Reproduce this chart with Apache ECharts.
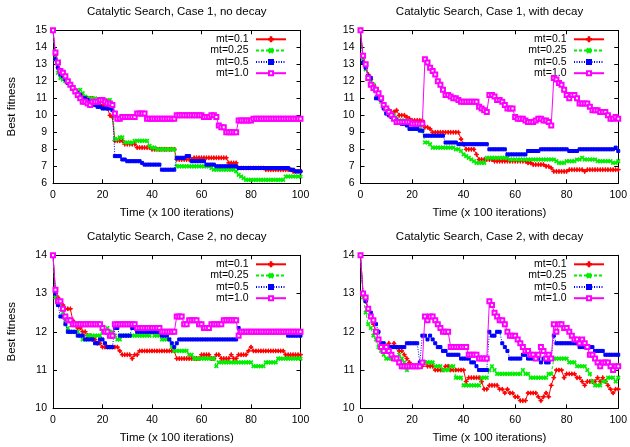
<!DOCTYPE html>
<html>
<head>
<meta charset="utf-8">
<script src="https://cdn.jsdelivr.net/npm/echarts@6/dist/echarts.min.js"></script>
<style>html,body{margin:0;padding:0;background:#fff}#c{width:630px;height:447px}</style>
</head>
<body>
<div id="c"></div>
<script>
// ---- Data (x = 0..100, units of 100 iterations) ----
const titles = ['Catalytic Search, Case 1, no decay','Catalytic Search, Case 1, with decay','Catalytic Search, Case 2, no decay','Catalytic Search, Case 2, with decay'];
const seriesNames = ['mt=0.1','mt=0.25','mt=0.5','mt=1.0'];
const xTicks = [0, 100, 20];
const yCase1 = [6, 15, 1];
const yCase2 = [10, 14, 1];

// Case 1, no decay
const c1nd_mt01 = [15,13.5,12.8,12.6,12.4,12.2,12.0,11.8,11.6,11.4,
11.3,11.2,11.1,11.0,11.0,11.0,11.0,10.8,10.7,10.6,
10.6,10.5,10.4,10.0,9.9,8.5,8.5,8.5,8.5,8.3,
8.3,8.3,8.3,8.3,8.1,8.1,8.1,8.1,8.1,8.1,
8.0,8.0,8.0,8.0,8.0,8.0,8.0,8.0,8.0,8.0,
7.4,7.4,7.4,7.4,7.4,7.4,7.4,7.5,7.5,7.5,
7.5,7.5,7.5,7.5,7.5,7.5,7.5,7.5,7.5,7.5,
7.5,7.2,7.2,7.2,7.2,6.9,6.9,6.9,6.9,6.9,
6.9,6.9,6.9,6.9,6.9,6.9,6.8,6.8,6.8,6.8,
6.8,6.8,6.8,6.8,6.8,6.8,6.8,6.7,6.7,6.7,
6.7];
const c1nd_mt025 = [15,13.3,12.5,12.2,12.1,12.0,11.9,11.8,11.6,11.5,
11.4,11.5,11.3,11.1,11.0,11.0,11.0,11.0,10.9,10.9,
10.9,10.9,10.9,10.9,10.5,8.6,8.6,8.7,8.7,8.4,
8.4,8.4,8.4,8.5,8.5,8.5,8.5,8.5,8.5,8.2,
8.1,8.1,8.0,8.0,8.0,8.0,8.0,8.0,8.0,8.0,
7.0,7.0,7.0,7.0,7.0,7.0,7.0,7.0,7.0,7.0,
7.0,7.0,7.0,7.0,6.9,6.8,6.8,6.8,6.8,6.8,
6.8,6.8,6.8,6.8,6.7,6.5,6.4,6.3,6.2,6.2,
6.2,6.2,6.2,6.2,6.2,6.2,6.2,6.2,6.2,6.2,
6.2,6.2,6.2,6.2,6.4,6.4,6.4,6.4,6.4,6.4,
6.4];
const c1nd_mt05 = [15,13.3,12.8,12.4,12.3,12.1,11.9,11.8,11.6,11.4,
11.3,11.2,11.0,11.0,10.9,10.8,10.7,10.6,10.5,10.5,
10.4,10.4,10.4,10.4,10.3,7.6,7.6,7.6,7.4,7.4,
7.3,7.3,7.3,7.3,7.3,7.3,7.2,7.1,7.1,7.1,
7.1,7.1,7.1,7.1,6.8,6.8,6.8,6.8,6.8,6.8,
7.5,7.5,7.5,7.5,7.6,7.6,7.3,7.3,7.3,7.3,
7.3,7.3,7.1,7.1,7.1,7.1,7.0,7.0,7.0,7.0,
7.0,7.0,7.0,7.0,7.0,6.9,6.9,6.9,6.9,6.9,
6.9,6.9,6.9,6.9,6.9,6.9,6.9,6.9,6.9,6.9,
6.9,6.9,6.9,6.9,6.9,6.9,6.8,6.8,6.7,6.7,
6.7];
const c1nd_mt10 = [15,13.7,13.1,12.6,12.5,12.3,12.0,11.8,11.6,11.4,
11.2,11.0,10.8,10.8,10.7,10.6,10.8,10.8,10.8,10.9,
10.9,10.8,10.7,10.7,10.6,10.1,9.8,9.8,9.9,9.9,
9.9,9.9,9.9,9.9,10.1,10.1,10.1,10.1,9.8,9.8,
9.8,9.8,9.8,9.8,9.8,9.8,9.8,9.8,9.8,9.8,
10.0,10.0,10.0,10.0,10.0,10.0,10.0,10.0,10.0,10.0,
10.0,9.9,9.9,9.9,10.0,10.0,9.9,9.4,9.3,9.3,
9.0,9.0,9.0,9.0,9.0,9.7,9.7,9.7,9.7,9.7,
9.7,9.8,9.8,9.8,9.8,9.8,9.8,9.8,9.8,9.8,
9.8,9.8,9.8,9.8,9.8,9.8,9.8,9.8,9.8,9.8,
9.8];

// Case 1, with decay
const c1wd_mt01 = [15,13.4,12.9,12.4,12.1,11.8,11.5,11.2,11.0,10.6,
10.4,10.3,10.2,10.2,10.3,10.0,10.0,10.0,9.9,9.8,
9.7,9.7,9.7,9.7,9.7,9.3,9.3,9.2,9.0,9.0,
9.0,9.0,9.0,9.0,9.0,9.0,9.0,9.0,9.0,8.6,
8.3,8.0,8.0,8.0,8.0,7.7,7.4,7.4,7.4,7.4,
7.4,7.4,7.3,7.3,7.3,7.3,7.3,7.3,7.3,7.3,
7.3,7.3,7.3,7.3,7.3,7.2,7.2,7.1,7.1,7.1,
7.1,7.1,7.0,7.0,6.9,6.7,6.7,6.7,6.7,6.7,
6.7,6.8,6.8,6.8,6.8,6.8,6.8,6.7,6.8,6.8,
6.8,6.8,6.8,6.8,6.8,6.8,6.8,6.8,6.8,6.8,
6.8];
const c1wd_mt025 = [15,13.2,12.7,12.3,12.0,11.8,11.5,11.2,10.8,10.5,
10.2,10.2,10.1,10.0,9.8,9.7,9.7,9.7,9.7,9.6,
9.5,9.4,9.3,9.2,9.1,8.4,8.4,8.3,8.1,8.1,
8.1,8.1,8.1,8.1,8.1,8.1,8.1,8.0,8.0,7.9,
7.7,7.6,7.5,7.4,7.3,7.2,7.2,7.2,7.2,7.5,
7.5,7.5,7.5,7.5,7.5,7.5,7.5,7.5,7.4,7.4,
7.4,7.4,7.4,7.4,7.4,7.4,7.4,7.4,7.4,7.4,
7.4,7.4,7.4,7.4,7.4,7.4,7.3,7.2,7.2,7.2,
7.3,7.3,7.3,7.3,7.4,7.4,7.5,7.4,7.4,7.4,
7.4,7.4,7.3,7.3,7.3,7.3,7.3,7.3,7.2,7.2,
7.3];
const c1wd_mt05 = [15,13.1,12.8,12.3,12.2,11.6,11.0,11.0,10.9,10.4,
10.1,10.0,9.9,9.8,9.7,9.6,9.5,9.5,9.4,9.2,
9.2,9.2,9.2,9.1,9.1,8.8,8.8,8.8,8.8,8.8,
8.8,8.8,8.8,8.4,8.4,8.4,8.4,8.4,8.3,8.3,
8.3,8.3,8.3,8.3,8.3,8.3,8.3,8.3,8.3,8.3,
8.0,8.0,8.0,8.0,8.0,8.0,8.0,7.7,7.7,7.7,
7.7,7.7,7.7,7.7,7.7,7.9,7.9,7.9,7.9,7.9,
8.0,8.0,8.0,8.0,8.0,8.0,8.0,8.0,8.0,8.0,
8.0,7.9,7.9,7.9,7.9,8.0,8.0,8.0,8.0,8.0,
8.0,8.0,8.0,8.0,8.0,8.0,8.0,8.0,8.0,8.1,
7.9];
const c1wd_mt10 = [15,13.5,13.0,12.2,11.8,11.6,11.5,11.3,11.0,10.6,
10.4,10.2,10.0,9.8,9.6,9.6,9.6,9.6,9.6,9.6,
9.5,9.5,9.5,9.5,9.5,13.3,13.1,12.8,12.6,12.4,
12.0,11.8,11.5,11.2,11.2,11.1,11.0,11.0,10.9,10.8,
10.8,10.8,10.8,10.8,10.8,10.8,10.5,10.4,10.3,10.2,
11.2,11.2,11.1,10.9,10.9,10.8,10.6,10.4,10.4,10.4,
9.9,9.8,9.8,9.8,9.7,9.6,9.6,9.6,9.7,9.8,
9.8,9.7,9.7,9.6,9.4,12.2,12.1,11.9,11.8,11.5,
11.2,11.0,11.2,11.2,11.0,10.7,10.7,10.7,10.7,10.5,
10.3,10.3,10.3,10.2,10.2,10.2,10.0,9.8,9.8,9.9,
9.8];

// Case 2, no decay
const c2nd_mt01 = [14,13.0,12.9,12.8,12.7,12.6,12.6,12.6,12.3,12.2,
12.1,12.1,12.0,12.0,11.9,11.9,11.8,11.8,11.7,11.7,
11.6,11.6,11.6,11.6,11.6,11.6,11.6,11.5,11.4,11.4,
11.4,11.4,11.3,11.4,11.4,11.5,11.5,11.5,11.5,11.5,
11.5,11.5,11.5,11.5,11.5,11.5,11.5,11.5,11.5,11.5,
11.3,11.3,11.3,11.3,11.3,11.3,11.3,11.3,11.3,11.3,
11.4,11.4,11.4,11.4,11.3,11.3,11.4,11.4,11.3,11.3,
11.3,11.3,11.4,11.3,11.3,11.4,11.4,11.4,11.4,11.5,
11.6,11.5,11.5,11.5,11.5,11.5,11.5,11.5,11.5,11.5,
11.5,11.5,11.5,11.5,11.4,11.4,11.4,11.4,11.4,11.4,
11.4];
const c2nd_mt025 = [14,12.9,12.8,12.7,12.5,12.3,12.1,12.0,12.0,12.0,
12.0,11.9,11.8,11.8,11.9,11.9,11.9,11.9,11.9,11.9,
12.0,12.0,12.1,12.0,12.0,11.9,11.8,11.8,11.9,11.9,
11.9,11.9,11.9,11.9,11.9,11.9,11.9,11.9,11.9,11.9,
12.0,11.9,11.9,11.9,11.8,11.8,11.8,11.8,11.6,11.5,
11.5,11.5,11.5,11.5,11.5,11.4,11.4,11.3,11.3,11.3,
11.3,11.3,11.3,11.3,11.3,11.3,11.1,11.2,11.2,11.2,
11.2,11.2,11.2,11.2,11.2,11.2,11.2,11.2,11.2,11.2,
11.2,11.1,11.1,11.1,11.1,11.1,11.2,11.2,11.2,11.2,
11.2,11.3,11.3,11.3,11.3,11.3,11.3,11.3,11.3,11.3,
11.3];
const c2nd_mt05 = [14,13.0,12.7,12.4,12.4,12.2,12.0,12.0,12.0,12.0,
11.9,11.9,11.9,11.8,11.8,11.8,11.8,11.7,11.7,11.8,
11.8,11.7,11.6,11.6,11.6,12.1,12.1,11.9,11.9,11.9,
11.9,11.9,12.1,12.1,12.0,12.0,12.0,12.0,12.0,12.0,
12.0,12.0,12.0,12.0,11.9,11.9,11.9,11.8,11.7,11.6,
11.7,11.8,11.8,11.8,11.8,11.8,11.8,11.8,11.8,11.8,
11.8,11.8,11.8,11.8,11.8,11.8,11.8,11.8,11.8,11.8,
11.8,11.8,11.8,11.8,11.8,12.1,12.0,12.0,12.0,12.0,
12.0,12.0,12.0,12.0,12.0,12.0,12.0,12.0,12.0,12.0,
12.0,12.0,12.0,12.0,12.0,11.9,11.9,11.9,11.9,11.9,
11.9];
const c2nd_mt10 = [14,13.1,12.8,12.8,12.6,12.4,12.3,12.3,12.2,12.2,
12.2,12.2,12.2,12.2,12.2,12.2,12.2,12.2,12.2,12.2,
12.1,12.0,12.0,11.9,11.9,12.2,12.2,12.2,12.2,12.2,
12.2,12.2,12.2,12.2,12.1,12.1,12.1,12.1,12.1,12.1,
12.1,12.1,12.1,12.1,12.0,12.0,12.0,12.0,12.0,12.0,
12.4,12.4,12.4,12.2,12.2,12.3,12.3,12.3,12.3,12.2,
12.2,12.1,12.1,12.1,12.2,12.2,12.2,12.2,12.2,12.3,
12.3,12.3,12.3,12.3,12.3,11.9,12.0,12.0,12.0,12.0,
12.0,12.0,12.0,12.0,12.0,12.0,12.0,12.0,12.0,12.0,
12.0,12.0,12.0,12.0,12.0,12.0,12.0,12.0,12.0,12.0,
12.0];

// Case 2, with decay
const c2wd_mt01 = [14,13.0,12.8,12.6,12.4,12.2,12.0,11.8,11.7,11.6,
11.6,11.7,11.6,11.7,11.6,11.5,11.5,11.4,11.3,11.2,
11.1,11.1,11.1,11.1,11.1,11.2,11.1,11.1,11.1,11.0,
11.0,11.0,11.0,11.1,11.1,11.0,11.0,11.0,11.0,11.0,
11.0,10.7,10.8,10.8,10.8,10.8,10.8,10.7,10.5,10.5,
10.6,10.6,10.6,10.6,10.5,10.5,10.4,10.5,10.4,10.4,
10.3,10.3,10.2,10.2,10.2,10.4,10.4,10.4,10.4,10.3,
10.2,10.3,10.4,10.3,10.6,10.8,11.0,11.0,11.0,10.8,
10.9,10.9,10.9,10.9,10.8,10.8,10.7,10.6,10.7,10.7,
10.7,10.7,10.8,10.7,10.8,10.7,10.6,10.5,10.4,10.5,
10.5];
const c2wd_mt025 = [14,12.9,12.5,12.2,12.1,11.9,11.8,11.6,11.5,11.4,
11.3,11.3,11.3,11.3,11.3,11.4,11.3,11.2,11.0,11.1,
11.1,11.1,11.1,11.1,11.2,11.2,11.2,11.2,11.2,11.1,
11.1,11.1,11.0,11.0,11.0,11.1,11.1,10.8,10.8,10.8,
10.6,10.6,10.6,10.6,10.6,10.6,10.6,10.8,10.8,10.8,
11.0,11.1,11.0,10.9,10.9,10.9,10.9,10.9,10.9,10.9,
10.9,10.9,10.9,11.0,10.9,10.9,10.8,10.8,10.8,10.8,
10.8,10.8,10.8,10.9,10.9,11.3,11.3,11.3,11.3,11.3,
11.3,11.2,11.2,11.2,11.1,11.1,11.1,11.1,11.0,10.9,
10.7,10.6,10.6,10.6,10.7,10.7,10.8,10.8,10.8,10.7,
10.8];
const c2wd_mt05 = [14,13.0,12.8,12.6,12.5,12.3,12.2,12.0,11.7,11.7,
11.6,11.6,11.6,11.6,11.6,11.6,11.6,11.6,11.7,11.7,
11.7,11.7,11.7,11.2,11.9,11.9,11.8,11.9,11.8,11.7,
11.6,11.6,11.5,11.5,11.4,11.4,11.4,11.4,11.4,11.3,
11.3,11.3,11.3,11.2,11.2,11.1,11.0,11.0,11.0,11.0,
12.0,11.9,11.9,12.0,12.0,11.7,11.6,11.5,11.3,11.3,
11.3,11.3,11.3,11.4,11.4,11.3,11.3,11.3,11.3,11.3,
11.2,11.3,11.2,11.2,11.3,11.9,11.7,11.7,11.7,11.7,
11.7,11.7,11.7,11.7,11.7,11.6,11.6,11.6,11.6,11.6,
11.6,11.5,11.5,11.5,11.5,11.4,11.4,11.4,11.4,11.4,
11.4];
const c2wd_mt10 = [14,13.0,12.9,12.6,12.4,12.3,12.0,11.8,11.6,11.5,
11.6,11.5,11.4,11.3,11.3,11.2,11.1,11.1,11.1,11.1,
11.1,11.1,11.1,11.1,11.2,12.4,12.3,12.4,12.4,12.3,
12.2,12.1,12.0,12.0,12.0,11.6,11.6,11.6,11.6,11.6,
11.6,11.6,11.4,11.4,11.4,11.4,11.3,11.3,11.3,11.3,
12.8,12.7,12.5,12.4,12.3,12.3,12.2,12.0,11.9,11.9,
11.9,11.8,11.7,11.6,11.5,11.5,11.4,11.4,11.3,11.4,
11.6,11.5,11.3,11.4,11.3,12.2,12.0,12.2,12.2,12.1,
12.1,12.0,11.9,11.8,11.8,11.7,11.8,11.7,11.6,11.4,
11.4,11.3,11.2,11.1,11.2,11.2,11.2,11.1,11.0,11.1,
11.1];

const panels = [
  [c1nd_mt01, c1nd_mt025, c1nd_mt05, c1nd_mt10],
  [c1wd_mt01, c1wd_mt025, c1wd_mt05, c1wd_mt10],
  [c2nd_mt01, c2nd_mt025, c2nd_mt05, c2nd_mt10],
  [c2wd_mt01, c2wd_mt025, c2wd_mt05, c2wd_mt10]
];
const panelY = [yCase1, yCase1, yCase2, yCase2];

// ---- Styles / layout ----
const FONT = "'Liberation Sans', Arial, Helvetica, sans-serif";
const grids = [
  {left: 53, top: 30.3, width: 247.5, height: 153},
  {left: 360.5, top: 30.3, width: 258, height: 153},
  {left: 53, top: 255.3, width: 247.5, height: 153},
  {left: 360.5, top: 255.3, width: 258, height: 153}
];
const PLUS = 'path://M4.2,0H5.8V4.2H10V5.8H5.8V10H4.2V5.8H0V4.2H4.2Z';
const styles = [
  {color: '#ff0000', type: 'solid', symbol: PLUS, size: 4, rot: 0},
  {color: '#00ee00', type: [3, 2], symbol: PLUS, size: 4, rot: 45},
  {color: '#0000ff', type: [1, 1.5], symbol: 'rect', size: 3, rot: 0},
  {color: '#ff00ff', type: 'solid', symbol: 'emptyRect', size: 4, rot: 0}
];

const axisCommon = {
  axisLine: {show: true, onZero: false, lineStyle: {color: '#000', width: 1}},
  axisTick: {show: true, inside: true, length: 4, lineStyle: {color: '#000'}},
  splitLine: {show: false}
};
const labelStyle = {color: '#000', fontFamily: FONT, fontSize: 10.5};

const option = {
  animation: false,
  backgroundColor: '#fff',
  title: [], grid: [], xAxis: [], yAxis: [], legend: [], series: []
};

panels.forEach((pdata, p) => {
  const g = grids[p];
  option.grid.push(Object.assign({containLabel: false}, g));
  option.title.push({
    text: titles[p], left: g.left + g.width / 2, top: g.top - 25, textAlign: 'center', padding: 0,
    textStyle: {fontFamily: FONT, fontSize: 11.5, fontWeight: 'normal', color: '#000', lineHeight: 14}
  });
  const [ymin, ymax, yint] = panelY[p];
  option.xAxis.push(Object.assign({
    type: 'value', gridIndex: p, min: xTicks[0], max: xTicks[1], interval: xTicks[2], position: 'bottom',
    name: 'Time (x 100 iterations)', nameLocation: 'middle', nameGap: 24,
    nameTextStyle: {color: '#000', fontFamily: FONT, fontSize: 11.5},
    axisLabel: Object.assign({margin: 6}, labelStyle)
  }, axisCommon));
  option.xAxis.push(Object.assign({
    type: 'value', gridIndex: p, min: xTicks[0], max: xTicks[1], interval: xTicks[2], position: 'top',
    axisLabel: {show: false}
  }, axisCommon));
  const yLeft = Object.assign({
    type: 'value', gridIndex: p, min: ymin, max: ymax, interval: yint, position: 'left',
    axisLabel: Object.assign({margin: 6}, labelStyle)
  }, axisCommon);
  if (p === 0 || p === 2) {
    yLeft.name = 'Best fitness';
    yLeft.nameLocation = 'middle';
    yLeft.nameGap = 35;
    yLeft.nameTextStyle = {color: '#000', fontFamily: FONT, fontSize: 11.5};
  }
  option.yAxis.push(yLeft);
  option.yAxis.push(Object.assign({
    type: 'value', gridIndex: p, min: ymin, max: ymax, interval: yint, position: 'right',
    axisLabel: {show: false}
  }, axisCommon));

  option.legend.push({
    data: seriesNames, orient: 'vertical', align: 'right',
    right: 630 - (g.left + g.width - 13.5), top: g.top + 3.5,
    itemWidth: 30, itemHeight: 5, itemGap: 0.3, padding: 0,
    selectedMode: false,
    textStyle: {color: '#000', fontFamily: FONT, fontSize: 10.5, lineHeight: 10.3, padding: [0, 2.5, 0, 0]}
  });

  pdata.forEach((arr, s) => {
    const st = styles[s];
    option.series.push({
      type: 'line', name: seriesNames[s],
      xAxisIndex: p * 2, yAxisIndex: p * 2,
      data: arr.map((v, i) => [i, v]),
      showAllSymbol: true, symbol: st.symbol, symbolSize: st.size, symbolRotate: st.rot,
      itemStyle: {color: st.color, borderColor: st.color, borderWidth: 1},
      lineStyle: {color: st.color, width: 1, type: st.type},
      emphasis: {disabled: true}, z: 2 + s
    });
  });
});

const chart = echarts.init(document.getElementById('c'), null, {renderer: 'canvas'});
chart.setOption(option);
</script>
</body>
</html>
